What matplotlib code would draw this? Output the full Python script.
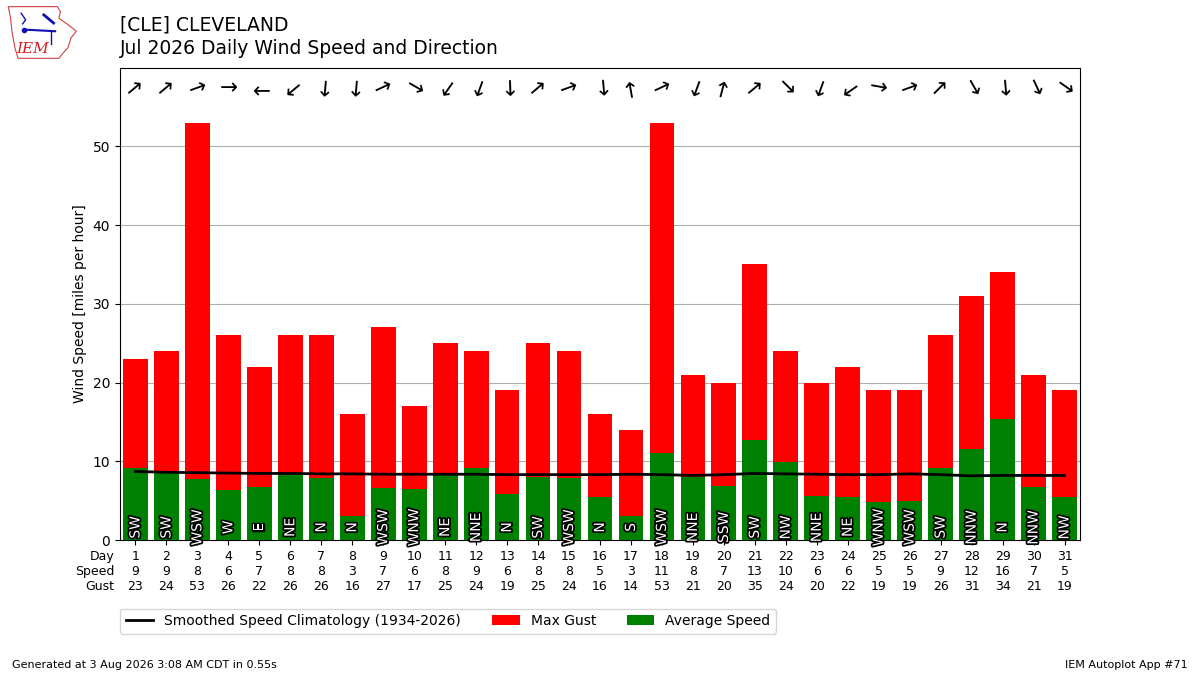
import matplotlib
matplotlib.use('Agg')
import matplotlib.pyplot as plt
import matplotlib.patheffects as pe
from matplotlib.patches import Polygon

days = list(range(1, 32))
avg_speed = [9.2, 8.5, 7.7, 6.3, 6.7, 8.2, 7.9, 3.0, 6.6, 6.5, 8.2, 9.2, 5.9, 8.0, 7.9, 5.4,
             3.1, 11.0, 8.0, 6.9, 12.7, 9.9, 5.6, 5.4, 4.8, 4.9, 9.2, 11.5, 15.4, 6.7, 5.4]
max_gust = [23, 24, 53, 26, 22, 26, 26, 16, 27, 17, 25, 24, 19, 25, 24, 16,
            14, 53, 21, 20, 35, 24, 20, 22, 19, 19, 26, 31, 34, 21, 19]
speed_lbl = [9, 9, 8, 6, 7, 8, 8, 3, 7, 6, 8, 9, 6, 8, 8, 5,
             3, 11, 8, 7, 13, 10, 6, 6, 5, 5, 9, 12, 16, 7, 5]
drct_lbl = ['SW', 'SW', 'WSW', 'W', 'E', 'NE', 'N', 'N', 'WSW', 'WNW', 'NE', 'NNE', 'N', 'SW', 'WSW', 'N',
            'S', 'WSW', 'NNE', 'SSW', 'SW', 'NW', 'NNE', 'NE', 'WNW', 'WSW', 'SW', 'NNW', 'N', 'NNW', 'NW']
drct = [230, 230, 250, 270, 90, 50, 5, 5, 245, 300, 35, 20, 358, 230, 250, 355,
        170, 245, 20, 195, 230, 315, 20, 55, 280, 250, 225, 330, 355, 335, 305]
climo = [8.7, 8.6, 8.55, 8.5, 8.45, 8.45, 8.4, 8.4, 8.35, 8.35, 8.35, 8.35, 8.3, 8.3, 8.3, 8.3,
         8.35, 8.3, 8.2, 8.3, 8.45, 8.4, 8.35, 8.3, 8.3, 8.4, 8.3, 8.15, 8.2, 8.2, 8.2]

fig = plt.figure(figsize=(12, 6.75), dpi=100)
ax = fig.add_axes([0.1, 0.2, 0.8, 0.7])

ax.bar(days, max_gust, width=0.8, color='r', label='Max Gust', zorder=2)
ax.bar(days, avg_speed, width=0.8, color='g', label='Average Speed', zorder=3)
ax.plot(days, climo, color='k', lw=2, zorder=4,
        label='Smoothed Speed Climatology (1934-2026)')

outline = [pe.withStroke(linewidth=2.5, foreground='k')]
for d, lbl in zip(days, drct_lbl):
    ax.text(d, 1.6, lbl, rotation=90, ha='center', va='center', color='white',
            fontsize=10, zorder=5, path_effects=outline, clip_on=False)

# arrows show where the wind blows to
for d, dd in zip(days, drct):
    ang = -90 - dd
    ax.text(d, 57.4, '\u2192', rotation=ang, ha='center', va='center',
            fontsize=15.5, zorder=5)

ax.set_xlim(0.5, 31.5)
ax.set_ylim(0, 60)
ax.set_yticks([0, 10, 20, 30, 40, 50])
ax.yaxis.grid(True, color='#b0b0b0', lw=0.8, zorder=0)
ax.set_axisbelow(True)
ax.set_ylabel('Wind Speed [miles per hour]')
ax.set_xticks(days)
ax.set_xticklabels([f'{d}\n{s}\n{g}' for d, s, g in zip(days, speed_lbl, max_gust)], fontsize=9)
ax.annotate('Day\nSpeed\nGust', xy=(0, 0), xycoords='axes fraction', xytext=(-4, -7),
            textcoords='offset points', ha='right', va='top', fontsize=9)

handles, labels = ax.get_legend_handles_labels()
ax.legend(handles, labels, ncol=3, loc='upper left', bbox_to_anchor=(0.0, -0.145),
          borderaxespad=0, fontsize=10, columnspacing=2.2)

fig.text(0.1, 0.977, '[CLE] CLEVELAND\nJul 2026 Daily Wind Speed and Direction',
         fontsize=13.5, va='top', ha='left', linespacing=1.3)
fig.text(0.01, 0.01, 'Generated at 3 Aug 2026 3:08 AM CDT in 0.55s', fontsize=8)
fig.text(0.99, 0.01, 'IEM Autoplot App #71', fontsize=8, ha='right')

# rough IEM logo
lax = fig.add_axes([0.005, 0.91, 0.063, 0.085])
lax.set_xlim(0, 10)
lax.set_ylim(0, 7)
lax.axis('off')
iowa = [(0.3, 6.6), (6.8, 6.6), (7.2, 6.0), (7.0, 5.2), (8.5, 4.2), (9.3, 3.6), (8.6, 2.8),
        (8.2, 1.6), (7.6, 1.0), (7.0, 0.3), (1.6, 0.3), (1.2, 1.5), (0.8, 3.5), (0.6, 5.2)]
lax.add_patch(Polygon(iowa, closed=True, fill=False, edgecolor='#d04040', lw=0.8))
lax.plot([2.4, 6.5], [3.8, 3.6], color='#1010b0', lw=1.5)
lax.plot([2.4], [3.8], 'o', color='#1010b0', ms=3)
lax.plot([2.0, 2.6, 2.2], [5.8, 5.0, 4.5], color='#1010b0', lw=1)
lax.plot([5.0, 6.3], [5.6, 4.6], color='#1010b0', lw=2)
lax.plot([6.0, 6.0], [3.6, 2.0], color='#1010b0', lw=1)
lax.text(1.3, 1.0, 'IEM', color='#d02020', fontsize=11, family='DejaVu Serif', style='italic')

fig.savefig('out.png', dpi=100)
